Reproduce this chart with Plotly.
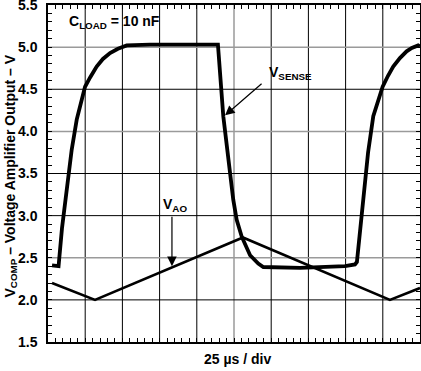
import plotly.graph_objects as go

# ---- data (time in microseconds, voltage in V) ----
vsense_t = [2.7, 7.1, 9.4, 12.6, 15.9, 19.3, 24.9, 28.3, 32.7, 36.9, 41.7, 47.0, 52.9, 68.5, 90.0, 114.2,
            117.8, 121.6, 124.5, 126.8, 130.2, 135.8, 141.3, 144.7, 169.4, 199.6, 206.3, 207.6,
            209.7, 211.9, 215.1, 218.6, 224.9, 228.5, 232.0, 236.5, 241.0, 244.5, 248.8, 250.0]
vsense_v = [2.41, 2.40, 2.85, 3.30, 3.78, 4.14, 4.53, 4.64, 4.77, 4.86, 4.93, 4.98, 5.02, 5.03, 5.03, 5.03,
            4.18, 3.62, 3.19, 2.95, 2.75, 2.53, 2.43, 2.39, 2.38, 2.40, 2.42, 2.45,
            2.79, 3.19, 3.75, 4.18, 4.53, 4.66, 4.77, 4.87, 4.95, 4.99, 5.02, 5.01]

vao_t = [2.7, 31.6, 131.0, 229.8, 250.0]
vao_v = [2.20, 2.00, 2.74, 2.00, 2.14]

y_ticks = [1.5, 2.0, 2.5, 3.0, 3.5, 4.0, 4.5, 5.0, 5.5]
x_ticks = [0, 25, 50, 75, 100, 125, 150, 175, 200, 225, 250]
grid_x_black = [25, 50, 75, 100, 150, 175, 200, 225]
grid_x_gray = [125]
grid_y_black = [2.0, 3.0, 3.5, 4.5]
grid_y_gray = [2.5, 4.0, 5.0]

FONT = "Liberation Sans, Arial, Helvetica, sans-serif"

fig = go.Figure()
fig.add_trace(go.Scatter(x=vao_t, y=vao_v, mode="lines",
                         line=dict(color="black", width=2.6), hoverinfo="skip"))
fig.add_trace(go.Scatter(x=vsense_t, y=vsense_v, mode="lines",
                         line=dict(color="black", width=3.8), hoverinfo="skip"))
# invisible trace to activate the mirrored (top/right) tick axes
fig.add_trace(go.Scatter(x=[vao_t[0]], y=[vao_v[0]], xaxis="x2", yaxis="y2", mode="markers",
                         marker=dict(opacity=0), hoverinfo="skip"))

shapes = []
for gx in grid_x_black:
    shapes.append(dict(type="line", xref="x", yref="paper", x0=gx, x1=gx, y0=0, y1=1,
                       line=dict(color="black", width=1), layer="below"))
for gx in grid_x_gray:
    shapes.append(dict(type="line", xref="x", yref="paper", x0=gx, x1=gx, y0=0, y1=1,
                       line=dict(color="#9a9a9a", width=1.5), layer="below"))
for gy in grid_y_black:
    shapes.append(dict(type="line", xref="paper", yref="y", x0=0, x1=1, y0=gy, y1=gy,
                       line=dict(color="black", width=1), layer="below"))
for gy in grid_y_gray:
    shapes.append(dict(type="line", xref="paper", yref="y", x0=0, x1=1, y0=gy, y1=gy,
                       line=dict(color="#9a9a9a", width=1.5), layer="below"))

annotations = [
    dict(x=12.8, y=5.30, xref="x", yref="y", text="<b>C<sub>LOAD</sub> = 10 nF</b>",
         showarrow=False, xanchor="left", yanchor="middle", font=dict(size=14, color="black", family=FONT)),
    dict(x=119.0, y=4.19, xref="x", yref="y", ax=38, ay=-33, text="", showarrow=True,
         arrowhead=2, arrowsize=1.6, arrowwidth=1.2, arrowcolor="black"),
    dict(x=147.0, y=4.69, xref="x", yref="y", text="<b>V<sub>SENSE</sub></b>",
         showarrow=False, xanchor="left", yanchor="middle", font=dict(size=14, color="black", family=FONT)),
    dict(x=83.3, y=2.40, xref="x", yref="y", ax=0, ay=-51, text="", showarrow=True,
         arrowhead=2, arrowsize=1.6, arrowwidth=1.2, arrowcolor="black"),
    dict(x=75.7, y=3.13, xref="x", yref="y", text="<b>V<sub>AO</sub></b>",
         showarrow=False, xanchor="left", yanchor="middle", font=dict(size=14, color="black", family=FONT)),
    dict(x=0.5, y=0, xref="paper", yref="paper", text="<b>25 µs / div</b>", showarrow=False,
         xanchor="center", yanchor="middle", xshift=3, yshift=-17,
         font=dict(size=14, color="black", family=FONT)),
    dict(x=0, y=0.5, xref="paper", yref="paper",
         text="<b>V<sub>COMP</sub> – Voltage Amplifier Output – V</b>", showarrow=False,
         textangle=-90, xanchor="center", yanchor="middle", xshift=-38, yshift=-3,
         font=dict(size=14, color="black", family=FONT)),
]

minor_x = dict(dtick=5, ticks="inside", ticklen=4, tickcolor="black", tickwidth=1, showgrid=False)
minor_y = dict(dtick=0.1, ticks="inside", ticklen=4, tickcolor="black", tickwidth=1, showgrid=False)

fig.update_layout(
    width=421, height=371,
    margin=dict(l=48, r=1, t=5, b=29, autoexpand=False),
    paper_bgcolor="white", plot_bgcolor="white",
    showlegend=False,
    font=dict(family=FONT, color="black", size=14),
    shapes=shapes, annotations=annotations,
    xaxis=dict(range=[0, 250], tickvals=x_ticks, showticklabels=False, showgrid=False, zeroline=False,
               showline=True, linecolor="black", linewidth=1.5, mirror=True, automargin=False,
               ticks="inside", ticklen=4, tickcolor="black", tickwidth=1,
               minor=minor_x, fixedrange=True),
    xaxis2=dict(range=[0, 250], overlaying="x", side="top", tickvals=x_ticks, showticklabels=False,
                showgrid=False, zeroline=False, showline=False, automargin=False,
                ticks="inside", ticklen=4, tickcolor="black", tickwidth=1,
                minor=minor_x, fixedrange=True),
    yaxis=dict(range=[1.5, 5.5], tickvals=y_ticks, ticktext=["<b>%.1f</b>" % v for v in y_ticks],
               showgrid=False, zeroline=False, automargin=False,
               showline=True, linecolor="black", linewidth=1.5, mirror=True,
               ticks="inside", ticklen=4, tickcolor="black", tickwidth=1,
               ticklabelstandoff=6, ticklabeloverflow="allow",
               tickfont=dict(size=14, color="black", family=FONT),
               minor=minor_y, fixedrange=True),
    yaxis2=dict(range=[1.5, 5.5], overlaying="y", side="right", anchor="x2", tickvals=y_ticks,
                showticklabels=False, showgrid=False, zeroline=False, showline=False, automargin=False,
                ticks="inside", ticklen=4, tickcolor="black", tickwidth=1,
                minor=minor_y, fixedrange=True),
)

fig.write_html("out.html", config={"displayModeBar": False},
               post_script="document.body.style.margin='0';document.body.style.padding='0';")
